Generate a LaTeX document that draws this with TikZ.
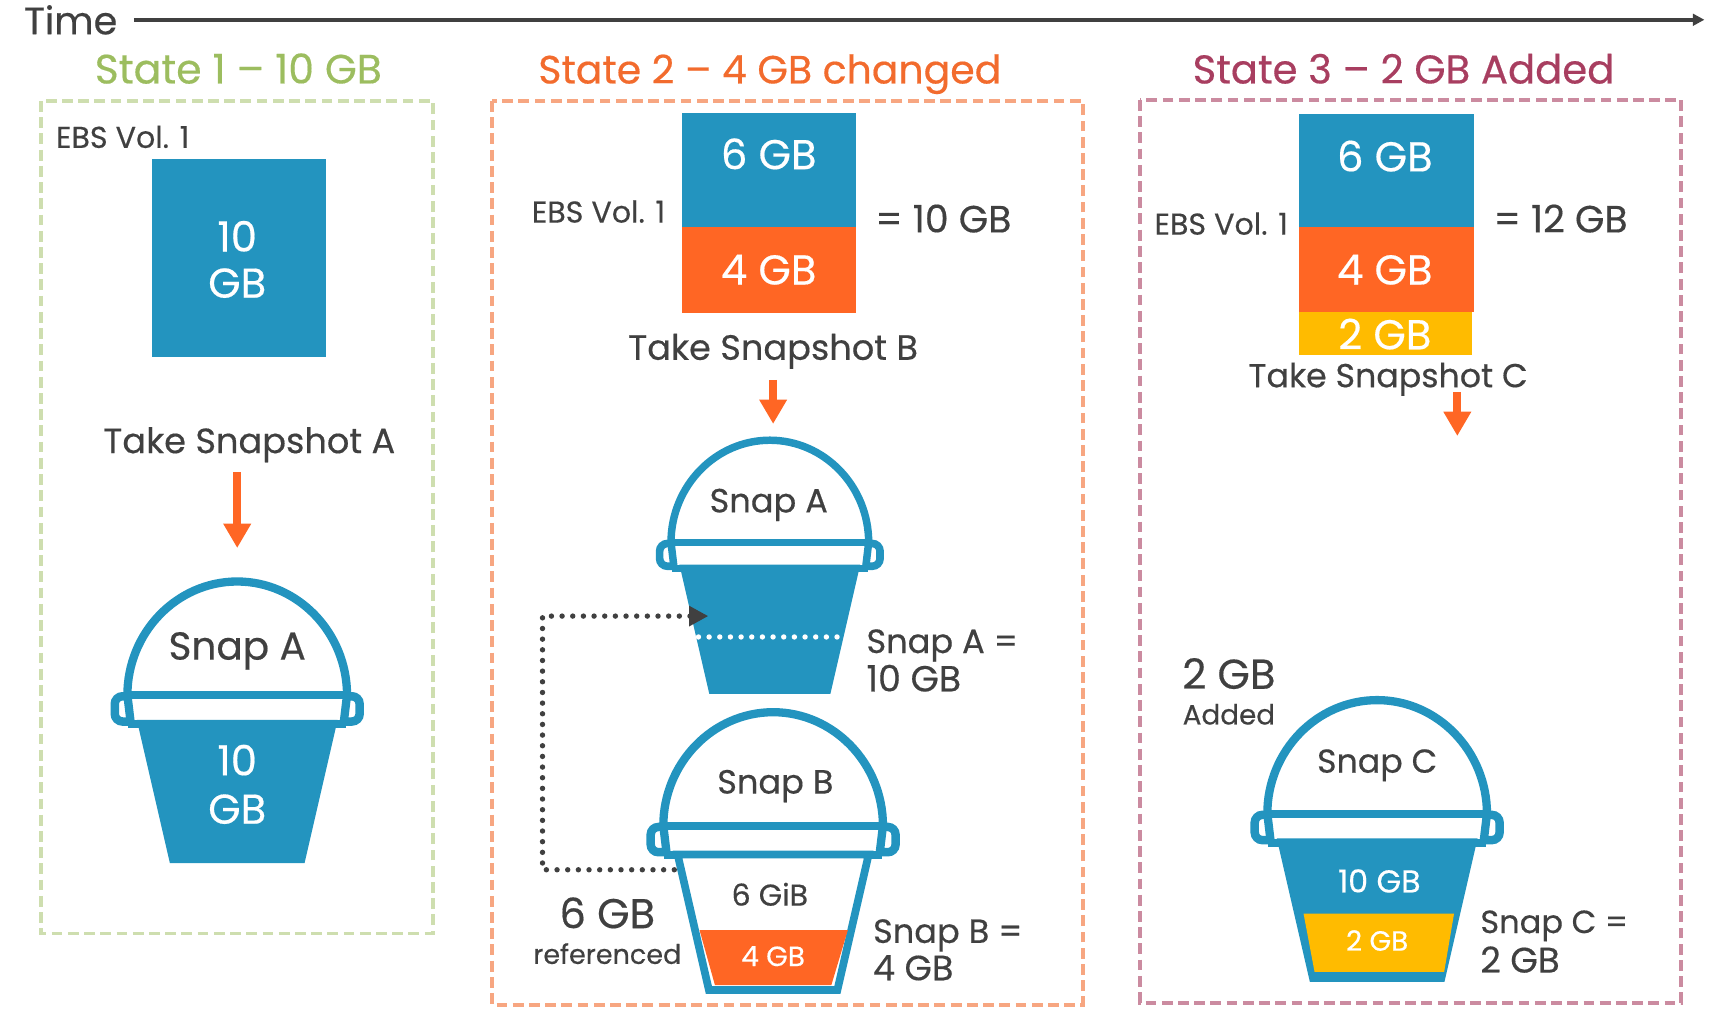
\documentclass[tikz,border=0pt]{standalone}
\usepackage{fontspec}
\setmainfont{Poppins}[FakeBold=0.4]
\usetikzlibrary{arrows.meta}
\definecolor{snapblue}{HTML}{2394BF}
\definecolor{snaporange}{HTML}{FF6624}
\definecolor{snapyellow}{HTML}{FFBB00}
\definecolor{snapdark}{HTML}{404040}
\definecolor{stategreen}{HTML}{9CBD5F}
\definecolor{statebrick}{HTML}{F26B2D}
\definecolor{statewine}{HTML}{A83E60}
\newcommand\snapbucket[4]{% x, y, scale, body colour
  \begin{scope}[shift={(#1,#2)},scale=#3]
    \draw[snapblue,line width=#3*2.2pt,rounded corners=2pt] (-111.5,1) rectangle (-90,24);
    \draw[snapblue,line width=#3*2.2pt,rounded corners=2pt] (111.5,1) rectangle (90,24);
    \fill[white] (-97,3) -- (97,3) -- (94,25) -- (-94,25) -- cycle;
    \draw[snapblue,line width=#3*2.15pt] (-97,25) -- (-100,0)
      .. controls (-100,-57) and (-55,-103.5) .. (0,-103.5)
      .. controls (55,-103.5) and (100,-57) .. (100,0) -- (97,25);
    \draw[snapblue,line width=#3*2.2pt] (-100,0) -- (100,0);
    \fill[snapblue] (-99,23) rectangle (99,30);
    \draw[snapblue,fill=#4,line width=#3*2pt,line join=miter]
      (-87,26) -- (87,26) -- (58.5,149.5) -- (-58.5,149.5) -- cycle;
  \end{scope}
}
\tikzset{
  statebox/.style={line width=1pt,dash pattern=on 2.8pt off 1.4pt},
  volbox/.style={inner sep=0,outer sep=0},
  snaparrow/.style={draw=snaporange,line width=2pt,-{Triangle[length=6.3pt,width=6.8pt]}},
  refline/.style={line width=1.4pt,line cap=round,dash pattern=on 0pt off 2.76pt},
  sizetitle/.style={text height=7.4pt,text depth=0pt,font=\fontsize{#1}{12}\selectfont},
  sizebig/.style={text=snapdark,text height=7.5pt,text depth=0pt,font=\fontsize{#1}{12}\selectfont},
  sizetake/.style={text=snapdark,text height=6.6pt,text depth=0pt,font=\fontsize{#1}{10}\selectfont},
  sizesmall/.style={text=snapdark,text height=5.5pt,text depth=0pt,font=\fontsize{#1}{8}\selectfont},
  sizeinner/.style={text=white,text height=8pt,text depth=0pt,font=\fontsize{10.8}{11}\selectfont},
  sizeslim/.style={text=white,text height=5.5pt,text depth=0pt,font=\fontsize{#1}{8}\selectfont},
}
\begin{document}
\begin{tikzpicture}[x=0.01cm,y=-0.01cm,inner sep=0,outer sep=0]
	\useasboundingbox (0,0) rectangle (1568,923.3);

	\node[sizebig=9.9,anchor=west] (time) at (22,18) {Time};
	\coordinate (timeend) at (1552,18);
	\draw[snapdark,line width=1.15pt,-{Triangle[length=3pt,width=3pt]}] (122,18) -- (timeend);

	% state 1
	\node[sizetitle=10.6,text=stategreen] (stateA) at (217,63) {State 1 -- 10 GB};
	\draw[stategreen!50!white,statebox] (37,92) rectangle (394,850);
	\node[sizesmall=7.8,anchor=west] (ebsA) at (51,125) {EBS Vol. 1};
	\node[volbox,fill=snapblue,minimum width=1.59cm,minimum height=1.8cm] (volA) at (217.5,235) {};
	\node[sizeinner] at (216,215) {10};
	\node[sizeinner] at (216,257) {GB};
	\node[sizetake=9.1] (takeA) at (227,401) {Take Snapshot A};
	\coordinate (bucketA) at (216,499);
	\draw[snaparrow] (216,430) -- (bucketA);
	\snapbucket{216}{633}{1}{snapblue}
	\node[sizetake=10.1] at (216,589) {Snap A};
	\node[sizeinner] at (216,692) {10};
	\node[sizeinner] at (216,736) {GB};

	% state 2
	\node[sizetitle=10.2,text=statebrick] (stateB) at (701,63) {State 2 -- 4 GB changed};
	\draw[statebrick!60!white,statebox] (448,92) rectangle (986,915);
	\node[volbox,fill=snapblue,minimum width=1.58cm,minimum height=1.04cm] (volBa) at (700,155) {};
	\node[volbox,fill=snaporange,minimum width=1.58cm,minimum height=0.78cm] (volBb) at (700,246) {};
	\node[sizeinner] at (700,140) {6 GB};
	\node[sizeinner] at (700,245) {4 GB};
	\node[sizesmall=7.8] (ebsB) at (545,193) {EBS Vol. 1};
	\node[sizetake=9.8] at (859,200) {= 10 GB};
	\node[sizetake=9.1] (takeB) at (704,316) {Take Snapshot B};
	\coordinate (bucketB) at (704,386);
	\draw[snaparrow] (704,346) -- (bucketB);
	\snapbucket{701}{494}{0.9}{snapblue}
	\node[sizetake=8.7] at (700,455) {Snap A};
	\snapbucket{704}{752}{1}{white}
	\fill[snaporange] (637,847) -- (772,847) -- (757,897) -- (651,897) -- cycle;
	\node[sizetake=8.7] at (706,711) {Snap B};
	\node[sizesmall=7.8] at (701,815) {6 GiB};
	\node[sizeslim=7.2] at (704,870) {4 GB};
	\draw[white,refline] (636,580) -- (768,580);
	\node[sizetake=8.7,anchor=west] (sumA) at (789,583) {Snap A =};
	\node[sizetake=9.4,anchor=west] at (789,618) {10 GB};
	\coordinate (refB) at (614,792);
	\coordinate (refA) at (645,561);
	\draw[snapdark,refline,-{Triangle[length=5pt,width=5pt]}] (refB) -- (494,792) |- (refA);
	\node[sizebig=10.8] (refsize) at (553,832) {6 GB};
	\node[sizesmall=7] at (553,868) {referenced};
	\node[sizetake=8.7,anchor=west] (sumB) at (795,847) {Snap B =};
	\node[sizetake=9.1,anchor=west] at (795,881) {4 GB};

	% state 3
	\node[sizetitle=10.4,text=statewine] (stateC) at (1278,63) {State 3 -- 2 GB Added};
	\draw[statewine!60!white,statebox] (1038,91) rectangle (1531,913);
	\node[volbox,fill=snapblue,minimum width=1.59cm,minimum height=1.03cm] (volCa) at (1262.5,155.5) {};
	\node[volbox,fill=snaporange,minimum width=1.59cm,minimum height=0.77cm] (volCb) at (1262.5,245.5) {};
	\node[volbox,fill=snapyellow,minimum width=1.57cm,minimum height=0.39cm] (volCc) at (1261.5,303.5) {};
	\node[sizeinner] at (1261,142) {6 GB};
	\node[sizeinner] at (1261,245) {4 GB};
	\node[sizeinner] at (1261,304) {2 GB};
	\node[sizesmall=7.8] (ebsC) at (1112,204) {EBS Vol. 1};
	\node[sizetake=9.8] at (1421,200) {= 12 GB};
	\node[sizetake=8.6] (takeC) at (1264,341) {Take Snapshot C};
	\coordinate (bucketC) at (1327,397);
	\draw[snaparrow] (1327,357) -- (bucketC);
	\node[sizebig=10.8] (addsize) at (1119,614) {2 GB};
	\node[sizesmall=7.2] at (1119,650) {Added};
	\snapbucket{1254}{741}{1}{snapblue}
	\fill[snapyellow] (1187,832) -- (1324,832) -- (1315,885) -- (1197,885) -- cycle;
	\node[sizetake=8.6] at (1254,692) {Snap C};
	\node[sizeslim=8.2] at (1256,803) {10 GB};
	\node[sizeslim=7.2] at (1254,856) {2 GB};
	\node[sizetake=8.3,anchor=west] (sumC) at (1348,838) {Snap C =};
	\node[sizetake=9.2,anchor=west] at (1348,874) {2 GB};
\end{tikzpicture}
\end{document}
